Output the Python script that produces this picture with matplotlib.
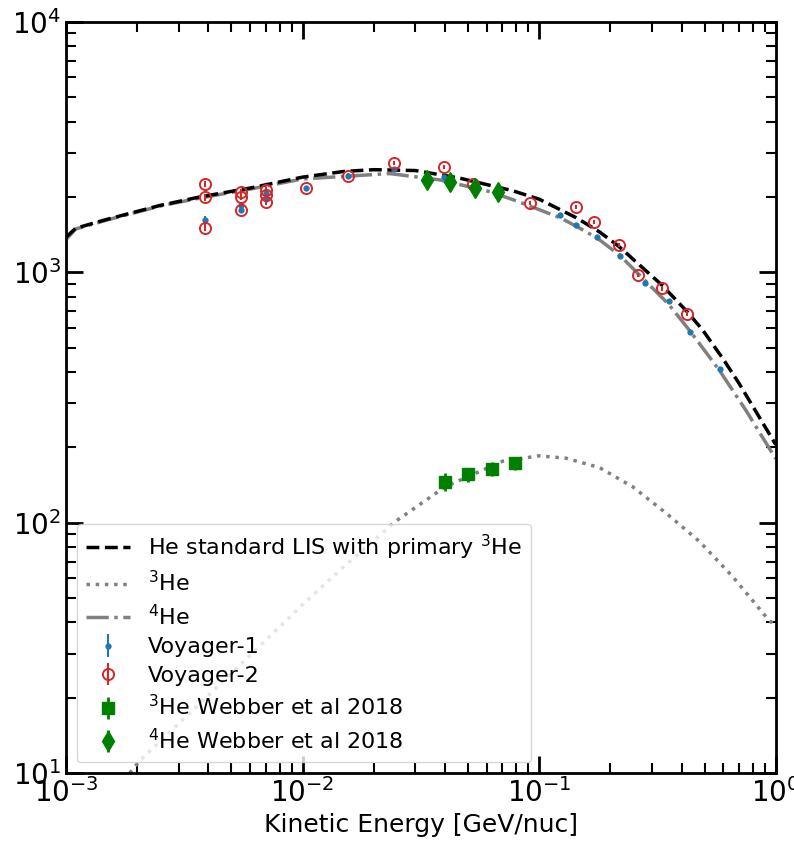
import numpy as np
import matplotlib
matplotlib.use("Agg")
import matplotlib.pyplot as plt

# model curves
e_tot = [1.0e-3, 1.1e-3, 1.5e-3, 2.5e-3, 3.68e-3, 6.0e-3, 0.01, 0.015, 0.02, 0.03,
         0.046, 0.077, 0.1, 0.144, 0.18, 0.215, 0.33, 0.42, 0.49, 0.6, 0.7, 0.85, 1.0]
f_tot = [1380, 1500, 1630, 1850, 2000, 2170, 2400, 2530, 2570, 2550,
         2380, 2120, 1960, 1650, 1450, 1280, 890, 700, 590, 450, 360, 265, 205]

e_he3 = [1.86e-3, 2.05e-3, 5.0e-3, 0.01, 0.015, 0.025, 0.04, 0.07, 0.1, 0.13,
         0.18, 0.249, 0.345, 0.477, 0.659, 0.912, 1.0]
f_he3 = [10, 11.2, 25, 47, 67, 102, 139, 176, 185, 181,
         166, 139, 109, 84, 60.8, 42, 38.4]

e_he4 = [1.0e-3, 1.1e-3, 1.5e-3, 2.5e-3, 3.68e-3, 6.0e-3, 0.01, 0.0234, 0.038, 0.062,
         0.08, 0.1, 0.123, 0.144, 0.176, 0.219, 0.281, 0.353, 0.436, 0.579, 0.75, 1.0]
f_he4 = [1350, 1490, 1620, 1840, 1980, 2150, 2360, 2480, 2340, 2100,
         1930, 1780, 1650, 1525, 1370, 1170, 925, 745, 580, 405, 280, 180]

# Voyager data
v1_e = [3.87e-3, 5.49e-3, 5.49e-3, 7.04e-3, 7.04e-3, 0.01039, 0.01558, 0.0243, 0.0395,
        0.0526, 0.123, 0.1438, 0.1756, 0.219, 0.281, 0.353, 0.436, 0.579]
v1_f = [1618, 1857, 1773, 2074, 1963, 2167, 2432, 2580, 2410,
        2213, 1694, 1545, 1388, 1162, 904, 768, 576, 410]
v1_err = [60, 55, 50, 50, 50, 45, 45, 45, 40,
          40, 30, 28, 25, 22, 18, 15, 12, 10]

v2_e = [3.87e-3, 3.87e-3, 3.87e-3, 5.49e-3, 5.49e-3, 5.49e-3, 7.04e-3, 7.04e-3, 7.04e-3,
        0.01039, 0.01558, 0.0243, 0.0395, 0.0526, 0.0913, 0.1438, 0.170, 0.217,
        0.263, 0.329, 0.421]
v2_f = [2254, 1994, 1508, 2100, 2004, 1773, 2133, 2037, 1914,
        2167, 2432, 2741, 2641, 2254, 1887, 1829, 1592, 1282,
        978, 863, 683]
v2_err = [70, 60, 50, 60, 55, 50, 55, 55, 50,
          50, 50, 55, 50, 45, 35, 35, 30, 25,
          20, 18, 15]

# Webber et al 2018
w3_e = [0.040, 0.050, 0.063, 0.079]
w3_f = [146, 156, 164, 173]
w3_err = [12, 10, 10, 10]
w4_e = [0.0337, 0.0419, 0.0534, 0.0668]
w4_f = [2338, 2302, 2166, 2089]
w4_err = [110, 100, 100, 90]

fig = plt.figure(figsize=(7.94, 8.44), dpi=100)
ax = fig.add_axes([0.083, 0.084, 0.894, 0.89])

ax.plot(e_tot, f_tot, "k--", lw=2.5, label="He standard LIS with primary $^3$He", zorder=3)
ax.plot(e_he3, f_he3, ":", color="gray", lw=2.5, label="$^3$He", zorder=2)
ax.plot(e_he4, f_he4, "-.", color="gray", lw=2.5, label="$^4$He", zorder=2)

ax.errorbar(v1_e, v1_f, yerr=v1_err, fmt=".", color="tab:blue", ms=7, label="Voyager-1", zorder=4)
ax.errorbar(v2_e, v2_f, yerr=v2_err, fmt="o", color="tab:red", mfc="none", ms=8,
            mew=1.4, label="Voyager-2", zorder=4)
ax.errorbar(w3_e, w3_f, yerr=w3_err, fmt="s", color="green", ms=8, elinewidth=2,
            label="$^3$He Webber et al 2018", zorder=5)
ax.errorbar(w4_e, w4_f, yerr=w4_err, fmt="d", color="green", ms=10, elinewidth=2,
            label="$^4$He Webber et al 2018", zorder=5)

ax.set_xscale("log")
ax.set_yscale("log")
ax.set_xlim(1e-3, 1e0)
ax.set_ylim(1e1, 1e4)
ax.set_xlabel("Kinetic Energy [GeV/nuc]", fontsize=18)

ax.tick_params(which="both", direction="in", top=True, right=True, labelsize=20)
ax.tick_params(which="major", length=12, width=2)
ax.tick_params(which="minor", length=7, width=1.5)
for s in ax.spines.values():
    s.set_linewidth(2)

ax.legend(loc="lower left", fontsize=16, labelspacing=0.38)

fig.savefig("out.png", dpi=100)
